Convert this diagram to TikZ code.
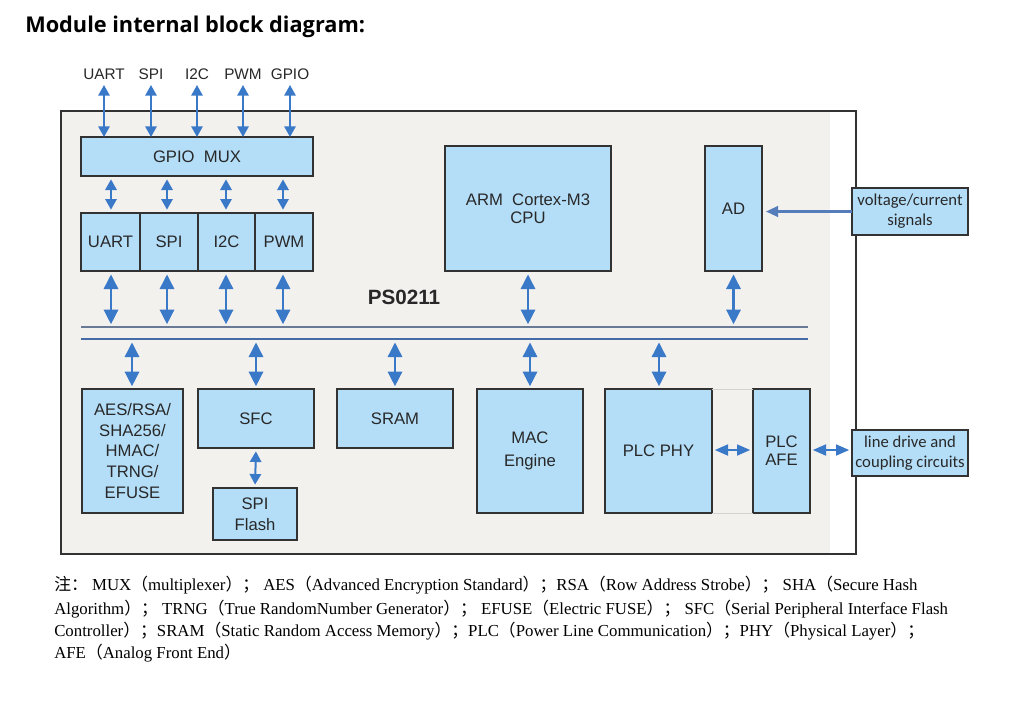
\documentclass[tikz,border=0pt]{standalone}
\usepackage{fontspec}
\usetikzlibrary{arrows.meta}
\newfontfamily\arialf{Liberation Sans}
\newfontfamily\serifL{Liberation Serif}
\newfontfamily\cjk{Noto Sans CJK SC}
\newfontfamily\carl{Carlito}
\newfontfamily\titlef{Open Sans}
\definecolor{blkfill}{RGB}{180,222,248}
\definecolor{blkline}{RGB}{50,50,50}
\definecolor{arrblue}{RGB}{58,120,200}
\definecolor{panel}{RGB}{242,241,238}
\definecolor{busgray}{RGB}{105,122,150}
\definecolor{busblue}{RGB}{70,108,168}
\definecolor{txtgray}{RGB}{40,40,40}
\newcommand\Lp{{\cjk （}}
\newcommand\Rp{{\cjk ）}}
\newcommand\Sm{{\cjk ；}}
\newcommand\mkblk[7][blk]{%
  \pgfmathsetmacro\bcx{(#3+#5)/2}\pgfmathsetmacro\bcy{(#4+#6)/2}%
  \pgfmathsetmacro\bww{(#5-#3)*0.75}\pgfmathsetmacro\bhh{(#6-#4)*0.75}%
  \node[#1, minimum width=\bww pt, minimum height=\bhh pt] (#2) at (\bcx,\bcy) {#7};}
\tikzset{
  blk/.style={draw=blkline, fill=blkfill, line width=1.1pt, inner sep=0pt, outer sep=0pt,
    align=center, text=txtgray, font=\arialf\fontsize{12.5}{15.5}\selectfont},
  extblk/.style={blk, font=\carl\fontsize{12.5}{15}\selectfont},
  toplbl/.style={inner sep=0pt, text=txtgray, font=\arialf\fontsize{11.5}{13}\selectfont},
  sarr/.style={draw=arrblue, line width=1.5pt, {Triangle[width=8.5pt,length=8pt]}-{Triangle[width=8.5pt,length=8pt]}},
  marr/.style={draw=arrblue, line width=1.5pt, {Triangle[width=8.5pt,length=8pt]}-{Triangle[width=8.5pt,length=8pt]}, shorten <=2.5pt, shorten >=2.5pt},
  barr/.style={draw=arrblue, line width=2.2pt, {Triangle[width=10.5pt,length=11pt]}-{Triangle[width=10.5pt,length=11pt]}, shorten <=2.5pt, shorten >=2pt},
  harr/.style={draw=arrblue, line width=2pt, {Triangle[width=8pt,length=10pt]}-{Triangle[width=8pt,length=10pt]}, shorten <=2pt, shorten >=2pt},
  note/.style={anchor=west, inner sep=0pt, font=\serifL\fontsize{12.6}{14}\selectfont},
}
\begin{document}
\begin{tikzpicture}[x=0.75pt, y=-0.75pt]
\useasboundingbox (0,0) rectangle (1027,719);
\fill[white] (0,0) rectangle (1027,719);
% title
\node[anchor=west, inner sep=0pt, font=\titlef\bfseries\fontsize{16.3}{18}\selectfont] (title) at (25,27) {Module internal block diagram:};
% panel
\fill[panel] (61,111) rectangle (830,554);
\draw[blkline, line width=1.1pt] (61,111) rectangle (856,554);
\node[inner sep=0pt, font=\arialf\bfseries\fontsize{15.5}{18}\selectfont, text=txtgray] (ps) at (404,297) {PS0211};
% top labels
\node[toplbl] (lUART) at (104,74) {UART};
\node[toplbl] (lSPI) at (151,74) {SPI};
\node[toplbl] (lI2C) at (197,74) {I2C};
\node[toplbl] (lPWM) at (243,74) {PWM};
\node[toplbl] (lGPIO) at (290,74) {GPIO};
% blocks
\mkblk{mux}{81}{137}{313}{176}{GPIO\ \ MUX}
\mkblk{uart}{81}{213}{140}{271}{UART}
\mkblk{spi}{140}{213}{198}{271}{SPI}
\mkblk{itc}{198}{213}{255}{271}{I2C}
\mkblk{pwm}{255}{213}{313}{271}{PWM}
\mkblk{cpu}{445}{146}{611}{271}{ARM\ \ Cortex-M3\\[-2pt]CPU}
\mkblk{ad}{705}{146}{762}{271}{AD}
\mkblk[extblk]{volt}{852}{188}{968}{235}{voltage/current\\signals}
\mkblk{aes}{82}{389}{183}{513}{AES/RSA/\\SHA256/\\HMAC/\\TRNG/\\EFUSE}
\mkblk{sfc}{198}{389}{314}{448}{SFC}
\mkblk{sram}{337}{389}{453}{448}{SRAM}
\mkblk{flash}{213}{488}{297}{540}{SPI\\[0.5pt]Flash}
\mkblk{mac}{477}{389}{583}{513}{MAC\\[1.5pt]Engine}
\mkblk{phy}{605}{389}{712}{513}{PLC PHY}
\mkblk{afe}{753}{389}{810}{513}{PLC\\[-2pt]AFE}
\mkblk[extblk]{line}{852}{430}{968}{476}{line drive and\\coupling circuits}
% faint connection lines between PHY and AFE
\draw[gray!35, line width=0.6pt] (phy.north east) -- (afe.north west);
\draw[gray!35, line width=0.6pt] (phy.south east) -- (afe.south west);
% bus
\coordinate (busT) at (81,327);
\coordinate (busB) at (81,339);
\coordinate (busTe) at (808,327);
\coordinate (busBe) at (808,339);
\draw[busgray, line width=1pt] (busT) -- (busTe);
\draw[busblue, line width=2pt] (busB) -- (busBe);
% top arrows
\foreach \n/\x in {lUART/104, lSPI/151, lI2C/197, lPWM/243, lGPIO/290}{
  \draw[sarr] (\x,85) -- (mux.north -| \x,0);
}
% mux to peripherals
\foreach \x/\nm in {111/uart, 167/spi, 226/itc, 283/pwm}{
  \draw[marr] (mux.south -| \x,0) -- (\nm.north -| \x,0);
  \draw[barr] (\nm.south -| \x,0) -- (busT -| \x,0);
}
\draw[barr] (cpu.south) -- (busT -| cpu.south);
\draw[barr] (ad.south) -- (busT -| ad.south);
% bus to lower blocks
\draw[barr] (busB -| 132,0) -- (aes.north -| 132,0);
\draw[barr] (busB -| sfc.north) -- (sfc.north);
\draw[barr] (busB -| sram.north) -- (sram.north);
\draw[barr] (busB -| mac.north) -- (mac.north);
\draw[barr] (busB -| 659,0) -- (phy.north -| 659,0);
\draw[marr] (sfc.south) -- (flash.north);
% horizontal
\draw[harr] (phy.east |- 0,450) -- (afe.west |- 0,450);
\draw[harr] (afe.east |- 0,450) -- (line.west |- 0,450);
\draw[draw={rgb,255:red,85;green,125;blue,185}, line width=1.6pt, -{Triangle[width=8pt,length=9pt]}, shorten >=3pt] (volt.west) -- (ad.east |- volt.west);
% footnote
\node[note] (n1) at (54,585) {{\cjk 注：}\ MUX\Lp multiplexer\Rp\Sm\ AES\Lp Advanced Encryption Standard\Rp\Sm RSA\Lp Row Address Strobe\Rp\Sm\ SHA\Lp Secure Hash};
\node[note] (n2) at (54,609) {Algorithm\Rp\Sm\ TRNG\Lp True RandomNumber Generator\Rp\Sm\ EFUSE\Lp Electric FUSE\Rp\Sm\ SFC\Lp Serial Peripheral Interface Flash};
\node[note] (n3) at (54,631) {Controller\Rp\Sm SRAM\Lp Static Random Access Memory\Rp\Sm PLC\Lp Power Line Communication\Rp\Sm PHY\Lp Physical Layer\Rp\Sm};
\node[note] (n4) at (54,653) {AFE\Lp Analog Front End\Rp};
\end{tikzpicture}
\end{document}
